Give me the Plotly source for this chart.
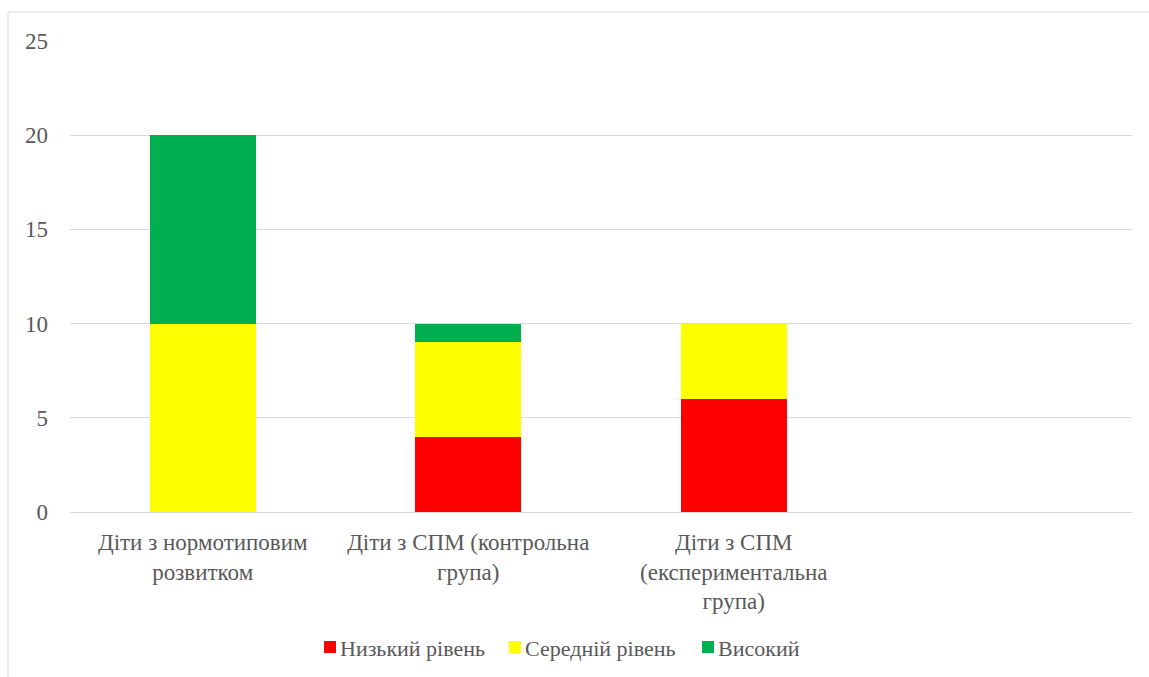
import plotly.graph_objects as go

categories = ["Діти з нормотиповим<br>розвитком",
              "Діти з СПМ (контрольна<br>група)",
              "Діти з СПМ<br>(експериментальна<br>група)"]
low = [0, 4, 6]
mid = [10, 5, 4]
high = [10, 1, 0]
series_names = ["Низький рівень", "Середній рівень", "Високий"]
colors = ["#FF0000", "#FFFF00", "#00B050"]

FONT = "Liberation Serif"
GREY = "#595959"

W, H = 1149, 677
L, R, T, B = 70, 17, 41, 165
PW, PH = W - L - R, H - T - B


def px_x(px):
    return (px - L) / PW


def px_y(py):
    return (H - B - py) / PH


fig = go.Figure()
for name, vals, c in zip(series_names, [low, mid, high], colors):
    fig.add_trace(go.Bar(x=categories, y=vals, name=name, showlegend=False,
                         marker=dict(color=c, line=dict(width=0))))

fig.update_layout(
    barmode="stack",
    bargap=0.6,
    width=W, height=H,
    margin=dict(l=L, r=R, t=T, b=B, autoexpand=False),
    paper_bgcolor="white", plot_bgcolor="white",
    font=dict(family=FONT, size=23, color=GREY),
    showlegend=False,
)
fig.update_xaxes(type="category", range=[-0.5, 3.5], showgrid=False, showline=True,
                 linecolor="#d9d9d9", linewidth=1, ticks="", ticklabelstandoff=9,
                 tickfont=dict(family=FONT, size=23, color=GREY))
fig.update_yaxes(range=[0, 25], dtick=5, showgrid=True, gridcolor="#d9d9d9", gridwidth=1,
                 zeroline=False, showline=False, ticks="", ticklabelstandoff=21,
                 tickfont=dict(family=FONT, size=23, color=GREY))

# outer chart border
fig.add_shape(type="rect", xref="paper", yref="paper",
              x0=px_x(8), x1=1.2, y0=-0.6, y1=px_y(12),
              line=dict(color="#d9d9d9", width=1), fillcolor="rgba(0,0,0,0)", layer="below")

# manual legend
legend_marker_px = [324, 509, 702]
legend_y = 647
for name, c, mx in zip(series_names, colors, legend_marker_px):
    fig.add_shape(type="rect", xref="paper", yref="paper",
                  x0=px_x(mx), x1=px_x(mx + 12), y0=px_y(legend_y + 6), y1=px_y(legend_y - 6),
                  line=dict(width=0), fillcolor=c)
    fig.add_annotation(xref="paper", yref="paper", x=px_x(mx + 14), y=px_y(legend_y + 1),
                       xanchor="left", yanchor="middle", text=name, showarrow=False,
                       font=dict(family=FONT, size=22, color=GREY))

fig.write_html("out.html")
